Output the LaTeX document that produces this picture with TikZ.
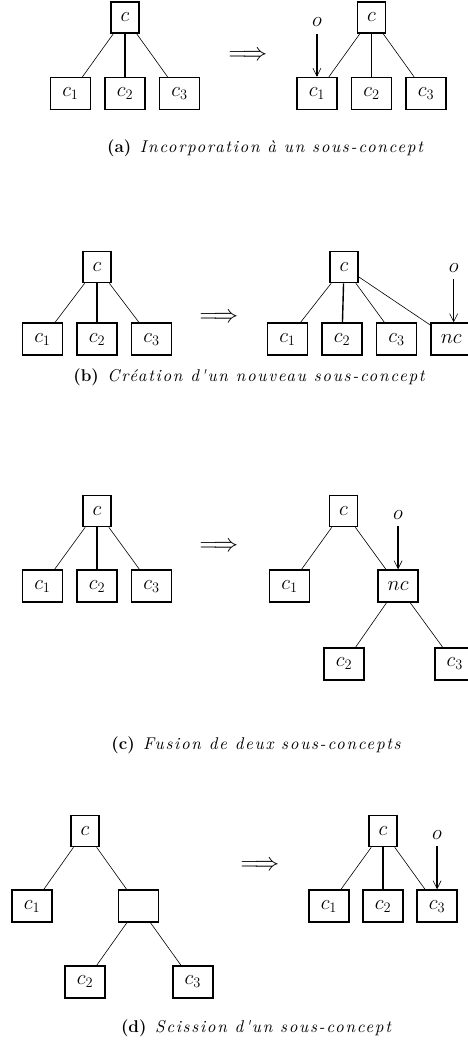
\documentclass[tikz,border=0pt]{standalone}
\usepackage{fontspec}
\usetikzlibrary{arrows.meta,positioning}
\newfontfamily\spacedit{lmroman10-italic.otf}[LetterSpace=10]
\newcommand\subcaptext[1]{{\spacedit #1}}

\begin{document}
\begin{tikzpicture}[x=1pt,y=1pt,node distance=42pt and 13pt,
    >={Straight Barb[length=8pt,width=8pt,line width=0.6pt]},
    rootbox/.style={draw,line width=1.6pt,minimum width=28pt,minimum height=31pt,inner sep=0pt,font=\fontsize{22}{24}\selectfont},
    kidbox/.style={draw,line width=1.6pt,minimum width=40pt,minimum height=32pt,inner sep=0pt,font=\fontsize{22}{24}\selectfont},
    objlabel/.style={inner sep=0pt,font=\fontsize{22}{24}\selectfont},
    twig/.style={line width=0.6pt},
    trunk/.style={line width=1.4pt},
    objarrow/.style={->,line width=1.2pt,shorten <=7pt},
    implies/.style={font=\fontsize{26}{28}\selectfont},
    subcap/.style={font=\fontsize{17}{19}\selectfont}]
  \useasboundingbox (0,0) rectangle (468,-1046);

  % (a) incorporation
  \node[rootbox] (aLc) at (125,-17.5) {$c$};
  \node[kidbox,below=43pt of aLc] (aL2) {$c_2$};
  \node[kidbox,left=of aL2] (aL1) {$c_1$};
  \node[kidbox,right=of aL2] (aL3) {$c_3$};
  \draw[twig] (aLc) -- (aL1) (aLc) -- (aL3);
  \draw[trunk,line width=2pt] (aLc) -- (aL2);
  \node[implies] (aTo) at (248,-56) {$\Longrightarrow$};
  \node[rootbox] (aRc) at (371.5,-17.5) {$c$};
  \node[kidbox,below=43pt of aRc] (aR2) {$c_2$};
  \node[kidbox,left=of aR2] (aR1) {$c_1$};
  \node[kidbox,right=of aR2] (aR3) {$c_3$};
  \node[objlabel,above=50pt of aR1] (aRo) {$o$};
  \draw[twig] (aRc) -- (aR1) (aRc) -- (aR3);
  \draw[trunk] (aRc) -- (aR2);
  \draw[objarrow] (aRo) -- (aRo |- aR1.north);
  \node[subcap] (capA) at (265,-148) {\textbf{(a)}\enspace\subcaptext{Incorporation à un sous-concept}};

  % (b) creation
  \node[rootbox] (bLc) at (97,-267) {$c$};
  \node[kidbox,below=39pt of bLc] (bL2) {$c_2$};
  \node[kidbox,left=of bL2] (bL1) {$c_1$};
  \node[kidbox,right=of bL2] (bL3) {$c_3$};
  \draw[twig] (bLc) -- (bL1) (bLc) -- (bL3);
  \draw[trunk] (bLc) -- (bL2);
  \node[implies] (bTo) at (219,-318) {$\Longrightarrow$};
  \node[rootbox] (bRc) at (344,-267) {$c$};
  \node[kidbox,below=39pt of bRc,xshift=-2pt] (bR2) {$c_2$};
  \node[kidbox,left=of bR2] (bR1) {$c_1$};
  \node[kidbox,right=of bR2] (bR3) {$c_3$};
  \node[kidbox,right=of bR3] (bRn) {$nc$};
  \node[objlabel,above=50pt of bRn,xshift=2.5pt] (bRo) {$o$};
  \draw[twig] (bRc) -- (bR1) (bRc) -- (bR3) (bRc) -- (bRn);
  \draw[trunk] (bRc) -- (bR2);
  \draw[objarrow] (bRo) -- (bRo |- bRn.north);
  \node[subcap] (capB) at (249,-377) {\textbf{(b)}\enspace\subcaptext{Création d'un nouveau sous-concept}};

  % (c) fusion
  \node[rootbox] (cLc) at (97,-511) {$c$};
  \node[kidbox,below=of cLc] (cL2) {$c_2$};
  \node[kidbox,left=of cL2] (cL1) {$c_1$};
  \node[kidbox,right=of cL2] (cL3) {$c_3$};
  \draw[twig] (cLc) -- (cL1) (cLc) -- (cL3);
  \draw[trunk] (cLc) -- (cL2);
  \node[implies] (cTo) at (219,-547) {$\Longrightarrow$};
  \node[rootbox] (cRc) at (343.5,-511) {$c$};
  \node[kidbox,below=of cRc,xshift=-54pt] (cR1) {$c_1$};
  \node[kidbox,right=67pt of cR1] (cRn) {$nc$};
  \node[kidbox,below=44pt of cRn,xshift=-54pt] (cR2) {$c_2$};
  \node[kidbox,right=69pt of cR2] (cR3) {$c_3$};
  \node[objlabel,above=50pt of cRn] (cRo) {$o$};
  \draw[twig] (cRc) -- (cR1) (cRc) -- (cRn) (cRn) -- (cR2) (cRn) -- (cR3);
  \draw[objarrow,line width=2pt] (cRo) -- (cRo |- cRn.north);
  \node[subcap] (capC) at (256,-745) {\textbf{(c)}\enspace\subcaptext{Fusion de deux sous-concepts}};

  % (d) scission
  \node[rootbox] (dLc) at (85,-831) {$c$};
  \node[kidbox,below=of dLc,xshift=-53pt] (dL1) {$c_1$};
  \node[kidbox,right=65pt of dL1] (dLn) {};
  \node[kidbox,below=of dLn,xshift=-53.5pt] (dL2) {$c_2$};
  \node[kidbox,right=66pt of dL2] (dL3) {$c_3$};
  \draw[twig] (dLc) -- (dL1) (dLc) -- (dLn) (dLn) -- (dL2) (dLn) -- (dL3);
  \node[implies] (dTo) at (260,-866) {$\Longrightarrow$};
  \node[rootbox] (dRc) at (383,-831) {$c$};
  \node[kidbox,below=of dRc] (dR2) {$c_2$};
  \node[kidbox,left=12.5pt of dR2] (dR1) {$c_1$};
  \node[kidbox,right=12.5pt of dR2] (dR3) {$c_3$};
  \node[objlabel,above=50pt of dR3] (dRo) {$o$};
  \draw[twig] (dRc) -- (dR1) (dRc) -- (dR3);
  \draw[trunk] (dRc) -- (dR2);
  \draw[objarrow,line width=2pt] (dRo) -- (dRo |- dR3.north);
  \node[subcap] (capD) at (256,-1028) {\textbf{(d)}\enspace\subcaptext{Scission d'un sous-concept}};
\end{tikzpicture}
\end{document}
